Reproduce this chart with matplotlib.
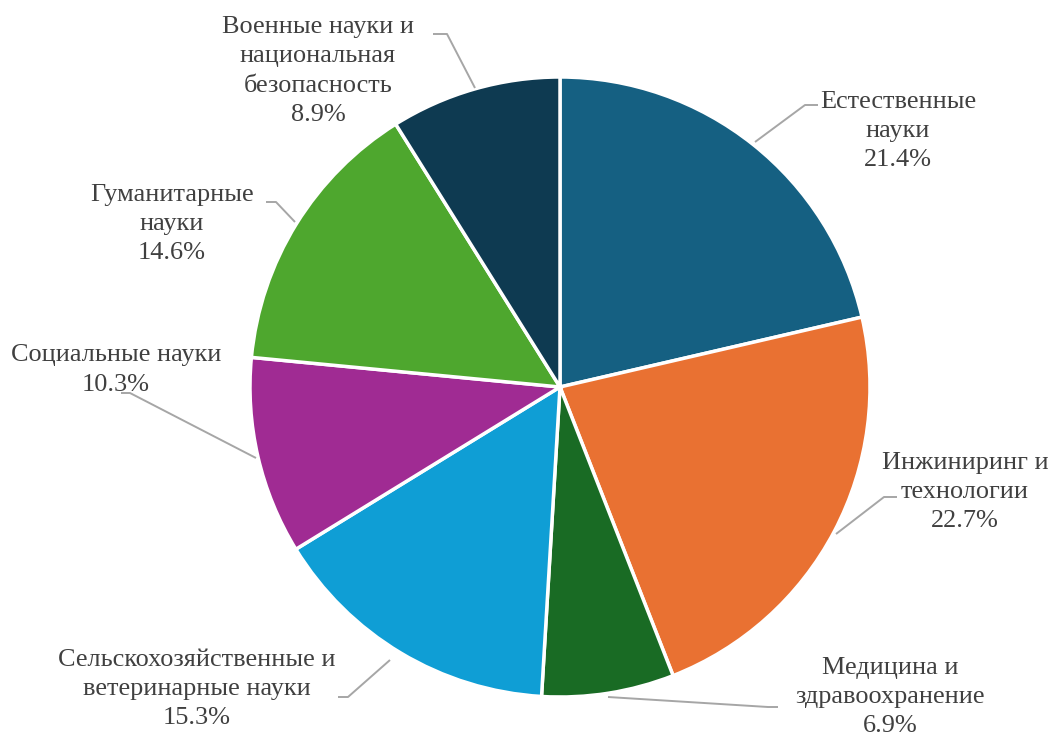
import matplotlib
matplotlib.use("Agg")
import matplotlib.pyplot as plt

categories = [
    "Естественные\nнауки",
    "Инжиниринг и\nтехнологии",
    "Медицина и\nздравоохранение",
    "Сельскохозяйственные и\nветеринарные науки",
    "Социальные науки",
    "Гуманитарные\nнауки",
    "Военные науки и\nнациональная\nбезопасность",
]
values = [21.4, 22.7, 6.9, 15.3, 10.3, 14.6, 8.9]
colors = ["#156082", "#E97132", "#196B24", "#0F9ED5", "#A02B93", "#4EA72E", "#0E3A51"]

W, H = 1049, 740
fig = plt.figure(figsize=(W / 100, H / 100), dpi=100)
ax = fig.add_axes([0, 0, 1, 1])

def py(y):
    return H - y

cx, cy, r = 560, 387, 310
ax.pie(values, startangle=90, counterclock=False, colors=colors,
       center=(cx, py(cy)), radius=r,
       wedgeprops=dict(edgecolor="white", linewidth=2.5))
ax.set_xlim(0, W)
ax.set_ylim(0, H)
ax.set_aspect("equal")
ax.axis("off")

# label layout: (text center x, text center y, leader points)
layout = [
    (898, 131, [(755, 142), (805, 105), (818, 105)]),
    (965, 492, [(836, 534), (884, 497), (897, 497)]),
    (890, 697, [(608, 697), (768, 707), (778, 707)]),
    (197, 689, [(390, 660), (348, 697), (338, 697)]),
    (116, 370, [(256, 458), (130, 393), (121, 393)]),
    (172, 224, [(295, 222), (276, 202), (266, 202)]),
    (318, 71, [(475, 88), (447, 34), (433, 34)]),
]

for cat, val, (tx, ty, pts) in zip(categories, values, layout):
    xs = [p[0] for p in pts]
    ys = [py(p[1]) for p in pts]
    ax.plot(xs, ys, color="#A6A6A6", lw=1.4, solid_capstyle="butt", zorder=1)
    ax.text(tx, py(ty), f"{cat}\n{val}%", ha="center", va="center",
            multialignment="center", fontsize=18.9, color="#404040",
            family=["Liberation Serif", "DejaVu Serif"], linespacing=1.43, zorder=3)

fig.savefig("out.png", dpi=100)
